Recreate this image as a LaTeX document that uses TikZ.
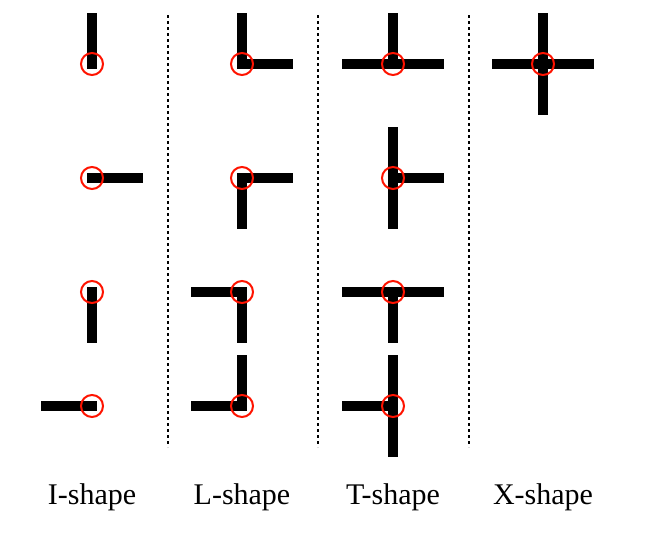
\documentclass[tikz,border=0pt]{standalone}
\usepackage{fontspec}
\setmainfont{Liberation Serif}
\begin{document}
\begin{tikzpicture}[x=1pt,y=-1pt]
    \tikzstyle{arm}=[line width=10pt, black, line cap=rect]
    \tikzstyle{joint}=[draw=red!85!orange, circle, line width=2pt, minimum size=22pt, inner sep=0pt]
    \tikzstyle{sep}=[line width=2.5pt, dash pattern=on 3pt off 3pt]
    \tikzstyle{lbl}=[font=\fontsize{30}{34}\selectfont]
    \useasboundingbox (0,0) rectangle (665,533);

    % junctions: name / x / y / arm directions (0 right, 90 down, 180 left, 270 up)
    \foreach \n/\x/\y/\dirs in {i1/92/64/{270}, i2/92/178/{0}, i3/92/292/{90}, i4/92/406/{180},
        l1/242/64/{270,0}, l2/242/178/{0,90}, l3/242/292/{180,90}, l4/242/406/{270,180},
        t1/393/64/{180,0,270}, t2/393/178/{270,90,0}, t3/393/292/{180,0,90}, t4/393/406/{270,90,180},
        x1/543/64/{0,90,180,270}}{
      \coordinate (\n) at (\x,\y);
      \foreach \a in \dirs { \draw[arm] (\n) -- ++(\a:46); }
      \node[joint] (\n c) at (\n) {};
    }

    \foreach \x/\n in {168/a, 318/b, 469/c}{
      \coordinate (top\n) at (\x,15);
      \coordinate (bot\n) at (\x,447);
      \draw[sep] (top\n) -- (bot\n);
    }

    \node[lbl] (li) at (92,497)  {I-shape};
    \node[lbl] (ll) at (242,497) {L-shape};
    \node[lbl] (lt) at (393,497) {T-shape};
    \node[lbl] (lx) at (543,497) {X-shape};
\end{tikzpicture}
\end{document}
